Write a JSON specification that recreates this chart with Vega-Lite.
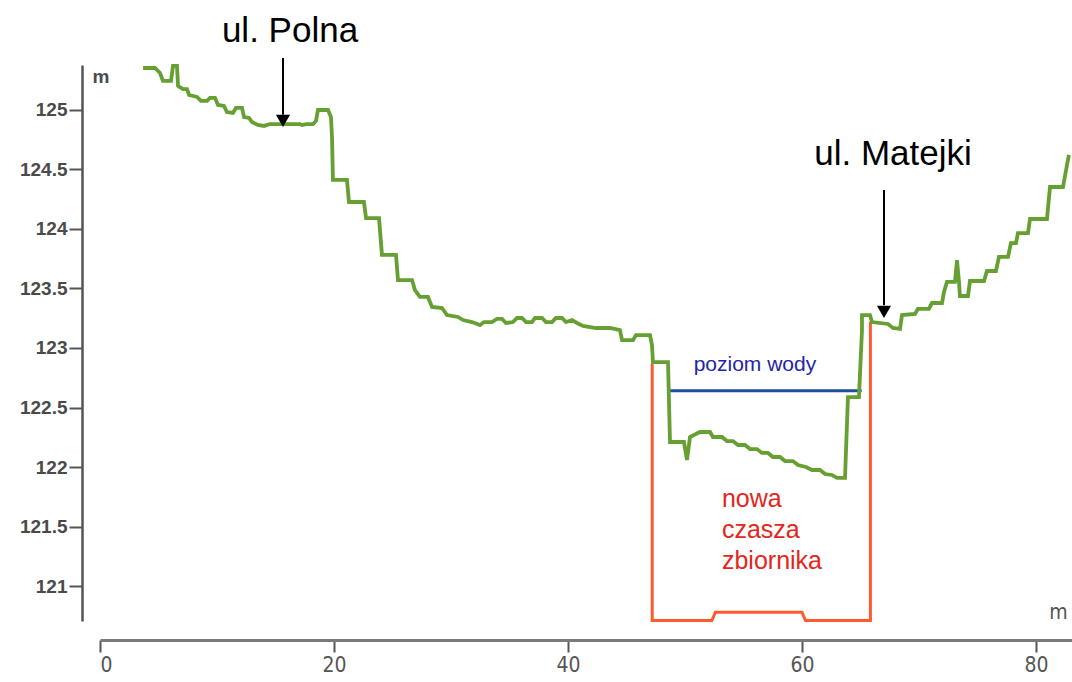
{
  "$schema": "https://vega.github.io/schema/vega-lite/v6.json",
  "width": 972,
  "height": 556,
  "autosize": {"type": "none"},
  "padding": {"left": 100, "top": 65, "right": 0, "bottom": 61},
  "background": "white",
  "config": {"view": {"stroke": null}},
  "datasets": {
    "ground": [
      {"x": 3.68, "y": 125.353}, {"x": 4.70, "y": 125.353}, {"x": 5.13, "y": 125.311}, {"x": 5.38, "y": 125.244},
      {"x": 6.07, "y": 125.244}, {"x": 6.24, "y": 125.370}, {"x": 6.58, "y": 125.370}, {"x": 6.67, "y": 125.202},
      {"x": 7.09, "y": 125.176}, {"x": 7.44, "y": 125.176}, {"x": 7.61, "y": 125.126}, {"x": 8.29, "y": 125.109},
      {"x": 8.63, "y": 125.076}, {"x": 9.15, "y": 125.076}, {"x": 9.40, "y": 125.101}, {"x": 9.83, "y": 125.101},
      {"x": 10.09, "y": 125.042}, {"x": 10.60, "y": 125.034}, {"x": 10.85, "y": 124.983}, {"x": 11.37, "y": 124.975},
      {"x": 11.62, "y": 125.017}, {"x": 12.14, "y": 125.017}, {"x": 12.31, "y": 124.941}, {"x": 12.74, "y": 124.933},
      {"x": 12.99, "y": 124.899}, {"x": 13.50, "y": 124.874}, {"x": 14.02, "y": 124.866}, {"x": 14.53, "y": 124.882},
      {"x": 17.09, "y": 124.882}, {"x": 17.26, "y": 124.874}, {"x": 17.61, "y": 124.882}, {"x": 18.21, "y": 124.882},
      {"x": 18.46, "y": 124.908}, {"x": 18.63, "y": 125.000}, {"x": 19.49, "y": 125.000}, {"x": 19.74, "y": 124.941},
      {"x": 19.83, "y": 124.773}, {"x": 19.91, "y": 124.412}, {"x": 21.11, "y": 124.412}, {"x": 21.28, "y": 124.227},
      {"x": 22.56, "y": 124.227}, {"x": 22.74, "y": 124.092}, {"x": 23.85, "y": 124.092}, {"x": 24.10, "y": 123.782},
      {"x": 25.30, "y": 123.782}, {"x": 25.47, "y": 123.571}, {"x": 26.67, "y": 123.571}, {"x": 26.92, "y": 123.487},
      {"x": 27.35, "y": 123.429}, {"x": 28.03, "y": 123.429}, {"x": 28.38, "y": 123.345}, {"x": 29.23, "y": 123.336},
      {"x": 29.66, "y": 123.277}, {"x": 30.60, "y": 123.261}, {"x": 31.03, "y": 123.235}, {"x": 31.79, "y": 123.218},
      {"x": 32.48, "y": 123.193}, {"x": 32.82, "y": 123.218}, {"x": 33.50, "y": 123.218}, {"x": 33.93, "y": 123.244},
      {"x": 34.36, "y": 123.244}, {"x": 34.70, "y": 123.210}, {"x": 35.30, "y": 123.218}, {"x": 35.64, "y": 123.252},
      {"x": 36.07, "y": 123.252}, {"x": 36.41, "y": 123.218}, {"x": 36.92, "y": 123.218}, {"x": 37.18, "y": 123.252},
      {"x": 37.78, "y": 123.252}, {"x": 38.12, "y": 123.218}, {"x": 38.63, "y": 123.218}, {"x": 38.97, "y": 123.252},
      {"x": 39.49, "y": 123.252}, {"x": 39.83, "y": 123.218}, {"x": 40.34, "y": 123.235}, {"x": 40.77, "y": 123.210},
      {"x": 41.28, "y": 123.185}, {"x": 41.88, "y": 123.176}, {"x": 42.39, "y": 123.168}, {"x": 43.59, "y": 123.168},
      {"x": 44.44, "y": 123.151}, {"x": 44.62, "y": 123.067}, {"x": 45.56, "y": 123.067}, {"x": 45.81, "y": 123.109},
      {"x": 47.01, "y": 123.109}, {"x": 47.18, "y": 123.025}, {"x": 47.26, "y": 122.882}, {"x": 48.55, "y": 122.882},
      {"x": 48.72, "y": 122.210}, {"x": 49.91, "y": 122.210}, {"x": 50.17, "y": 122.059}, {"x": 50.43, "y": 122.252},
      {"x": 51.28, "y": 122.294}, {"x": 52.14, "y": 122.294}, {"x": 52.39, "y": 122.252}, {"x": 53.16, "y": 122.252},
      {"x": 53.59, "y": 122.218}, {"x": 54.10, "y": 122.218}, {"x": 54.53, "y": 122.185}, {"x": 55.13, "y": 122.185},
      {"x": 55.56, "y": 122.151}, {"x": 56.15, "y": 122.151}, {"x": 56.58, "y": 122.118}, {"x": 57.09, "y": 122.118},
      {"x": 57.52, "y": 122.084}, {"x": 58.12, "y": 122.084}, {"x": 58.55, "y": 122.050}, {"x": 59.23, "y": 122.050},
      {"x": 59.66, "y": 122.017}, {"x": 60.34, "y": 122.000}, {"x": 60.85, "y": 121.975}, {"x": 61.54, "y": 121.975},
      {"x": 61.97, "y": 121.941}, {"x": 62.56, "y": 121.933}, {"x": 62.99, "y": 121.908}, {"x": 63.68, "y": 121.908},
      {"x": 63.93, "y": 122.588}, {"x": 64.87, "y": 122.588}, {"x": 65.13, "y": 123.151}, {"x": 65.13, "y": 123.277},
      {"x": 65.81, "y": 123.277}, {"x": 65.98, "y": 123.218}, {"x": 67.35, "y": 123.202}, {"x": 67.78, "y": 123.168},
      {"x": 68.38, "y": 123.160}, {"x": 68.55, "y": 123.277}, {"x": 69.66, "y": 123.286}, {"x": 69.91, "y": 123.328},
      {"x": 70.85, "y": 123.328}, {"x": 71.11, "y": 123.378}, {"x": 71.97, "y": 123.378}, {"x": 72.14, "y": 123.471},
      {"x": 72.39, "y": 123.555}, {"x": 73.08, "y": 123.555}, {"x": 73.25, "y": 123.739}, {"x": 73.42, "y": 123.555},
      {"x": 73.50, "y": 123.437}, {"x": 74.19, "y": 123.437}, {"x": 74.36, "y": 123.563}, {"x": 75.56, "y": 123.563},
      {"x": 75.81, "y": 123.647}, {"x": 76.58, "y": 123.647}, {"x": 76.84, "y": 123.765}, {"x": 77.61, "y": 123.765},
      {"x": 77.86, "y": 123.882}, {"x": 78.29, "y": 123.882}, {"x": 78.46, "y": 123.966}, {"x": 79.32, "y": 123.966},
      {"x": 79.49, "y": 124.084}, {"x": 80.94, "y": 124.084}, {"x": 81.20, "y": 124.353}, {"x": 82.31, "y": 124.353},
      {"x": 82.65, "y": 124.538}, {"x": 82.82, "y": 124.622}
    ],
    "basin": [
      {"x": 47.2, "y": 122.87}, {"x": 47.2, "y": 120.71}, {"x": 52.3, "y": 120.71}, {"x": 52.6, "y": 120.78},
      {"x": 60.0, "y": 120.78}, {"x": 60.3, "y": 120.71}, {"x": 65.85, "y": 120.71}, {"x": 65.85, "y": 123.22}
    ],
    "water": [{"x": 48.72, "y": 122.64}, {"x": 65.1, "y": 122.64}],
    "arrows": [
      {"x": 15.64, "y1": 125.437, "y2": 124.96, "tip": 124.908},
      {"x": 67.01, "y1": 124.328, "y2": 123.36, "tip": 123.303}
    ],
    "places": [
      {"label": "ul. Polna", "x": 16.24, "y": 125.571},
      {"label": "ul. Matejki", "x": 67.78, "y": 124.538}
    ]
  },
  "layer": [
    {
      "data": {"name": "basin"},
      "mark": {"type": "line", "color": "#ff5b2e", "strokeWidth": 3, "clip": false},
      "encoding": {
        "x": {"field": "x", "type": "quantitative", "scale": {"domain": [0, 83.08], "nice": false, "zero": false},
          "axis": {"values": [0, 20, 40, 60, 80], "offset": 19, "grid": false, "domainColor": "#7a7a7a", "domainWidth": 3,
            "tickColor": "#555", "tickWidth": 2, "tickSize": 12, "labelFont": "Liberation Sans Narrow, DejaVu Sans Condensed, Liberation Sans",
            "labelFontSize": 21, "labelColor": "#555", "labelPadding": 2,
            "title": "m", "titleFont": "Liberation Sans Narrow, DejaVu Sans Condensed, Liberation Sans", "titleFontSize": 21,
            "titleFontWeight": "normal", "titleColor": "#555", "titleX": 958, "titleY": -28, "titleAlign": "center", "titleBaseline": "middle"}},
        "y": {"field": "y", "type": "quantitative", "scale": {"domain": [120.706, 125.378], "nice": false, "zero": false},
          "axis": {"values": [121, 121.5, 122, 122.5, 123, 123.5, 124, 124.5, 125], "labelExpr": "datum.value + ''",
            "offset": 18, "grid": false, "domainColor": "#555", "domainWidth": 2.5, "tickColor": "#555", "tickWidth": 2, "tickSize": 13,
            "labelFont": "Liberation Sans", "labelFontSize": 19, "labelFontWeight": "bold", "labelColor": "#4a4a4a", "labelPadding": 2,
            "title": "m", "titleAngle": 0, "titleFont": "Liberation Sans", "titleFontSize": 19, "titleFontWeight": "bold", "titleColor": "#4a4a4a",
            "titleX": 10, "titleY": 11, "titleAlign": "left", "titleBaseline": "middle"}},
        "order": {"value": null}
      }
    },
    {
      "data": {"name": "water"},
      "mark": {"type": "line", "color": "#1f4e9a", "strokeWidth": 3},
      "encoding": {
        "x": {"field": "x", "type": "quantitative"},
        "y": {"field": "y", "type": "quantitative"}
      }
    },
    {
      "data": {"name": "ground"},
      "mark": {"type": "line", "color": "#66a032", "strokeWidth": 3.8, "clip": false},
      "encoding": {
        "x": {"field": "x", "type": "quantitative"},
        "y": {"field": "y", "type": "quantitative"},
        "order": {"value": null}
      }
    },
    {
      "data": {"name": "arrows"},
      "mark": {"type": "rule", "color": "#000", "strokeWidth": 2, "clip": false},
      "encoding": {
        "x": {"field": "x", "type": "quantitative"},
        "y": {"field": "y1", "type": "quantitative"},
        "y2": {"field": "y2"}
      }
    },
    {
      "data": {"name": "arrows"},
      "mark": {"type": "point", "shape": "triangle-down", "filled": true, "color": "#000", "size": 200, "opacity": 1, "clip": false},
      "encoding": {
        "x": {"field": "x", "type": "quantitative"},
        "y": {"field": "tip", "type": "quantitative"}
      }
    },
    {
      "data": {"name": "places"},
      "mark": {"type": "text", "font": "Liberation Sans", "fontSize": 35, "color": "#000", "align": "center", "baseline": "alphabetic", "clip": false},
      "encoding": {
        "x": {"field": "x", "type": "quantitative"},
        "y": {"field": "y", "type": "quantitative"},
        "text": {"field": "label"}
      }
    },
    {
      "data": {"values": [{"label": "poziom wody", "x": 55.98, "y": 122.807}]},
      "mark": {"type": "text", "font": "Liberation Sans", "fontSize": 21, "color": "#2424a8", "align": "center", "baseline": "alphabetic"},
      "encoding": {
        "x": {"field": "x", "type": "quantitative"},
        "y": {"field": "y", "type": "quantitative"},
        "text": {"field": "label"}
      }
    },
    {
      "data": {"values": [{"label": ["nowa", "czasza", "zbiornika"], "x": 53.16, "y": 121.664}]},
      "mark": {"type": "text", "font": "Liberation Sans", "fontSize": 25, "lineHeight": 31, "color": "#e3261b", "align": "left", "baseline": "alphabetic"},
      "encoding": {
        "x": {"field": "x", "type": "quantitative"},
        "y": {"field": "y", "type": "quantitative"},
        "text": {"field": "label"}
      }
    }
  ]
}
